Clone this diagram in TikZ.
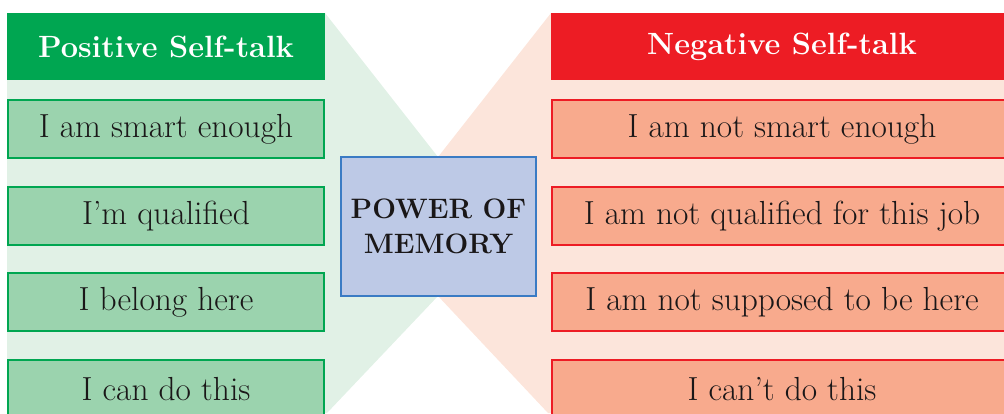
\documentclass[tikz,border=0pt]{standalone}
\definecolor{posdark}{HTML}{00A651}
\definecolor{posfill}{HTML}{9BD3AE}
\definecolor{poslight}{HTML}{E1F1E6}
\definecolor{negdark}{HTML}{ED1C24}
\definecolor{negfill}{HTML}{F8AA8D}
\definecolor{neglight}{HTML}{FCE5DB}
\definecolor{memfill}{HTML}{BDC9E6}
\definecolor{memline}{HTML}{3A7BC4}
\definecolor{inktext}{HTML}{1A1718}
\tikzset{
  head/.style={text=white, minimum height=1.34cm, font=\fontsize{17.5}{20}\selectfont\bfseries},
  item/.style={line width=1.1pt, minimum height=1.16cm, text=inktext, font=\fontsize{19}{22}\selectfont},
  poshead/.style={head, fill=posdark, minimum width=6.36cm},
  negHead/.style={head, fill=negdark, minimum width=9.24cm},
  positem/.style={item, draw=posdark, fill=posfill, minimum width=6.32cm},
  negitem/.style={item, draw=negdark, fill=negfill, minimum width=9.2cm},
  membox/.style={draw=memline, line width=1.3pt, fill=memfill, minimum width=3.9cm, minimum height=2.78cm,
    align=center, text=inktext, font=\fontsize{16}{20}\selectfont\bfseries}
}
\begin{document}
\begin{tikzpicture}[x=0.02cm,y=-0.02cm]
    \useasboundingbox (0,0) rectangle (1004,413);
    \fill[poslight] (7,13) -- (325,13) -- (438,157) -- (438,296) -- (327,413) -- (7,413) -- cycle;
    \fill[neglight] (438,157) -- (551,13) -- (1004,13) -- (1004,413) -- (548,413) -- (438,296) -- cycle;

    \node[poshead] (posHead) at (166,46.5) {Positive Self-talk};
    \node[positem] (pos1) at (166,129) {I am smart enough};
    \node[positem] (pos2) at (166,216) {I’m qualified};
    \node[positem] (pos3) at (166,302) {I belong here};
    \node[positem] (pos4) at (166,389) {I can do this};

    \node[negHead] (negHead) at (782,46.5) {Negative Self-talk};
    \node[negitem] (neg1) at (782,129) {I am not smart enough};
    \node[negitem] (neg2) at (782,216) {I am not qualified for this job};
    \node[negitem] (neg3) at (782,302) {I am not supposed to be here};
    \node[negitem] (neg4) at (782,389) {I can’t do this};

    \node[membox] (memory) at (438.5,226.5) {POWER OF\\MEMORY};
\end{tikzpicture}
\end{document}
